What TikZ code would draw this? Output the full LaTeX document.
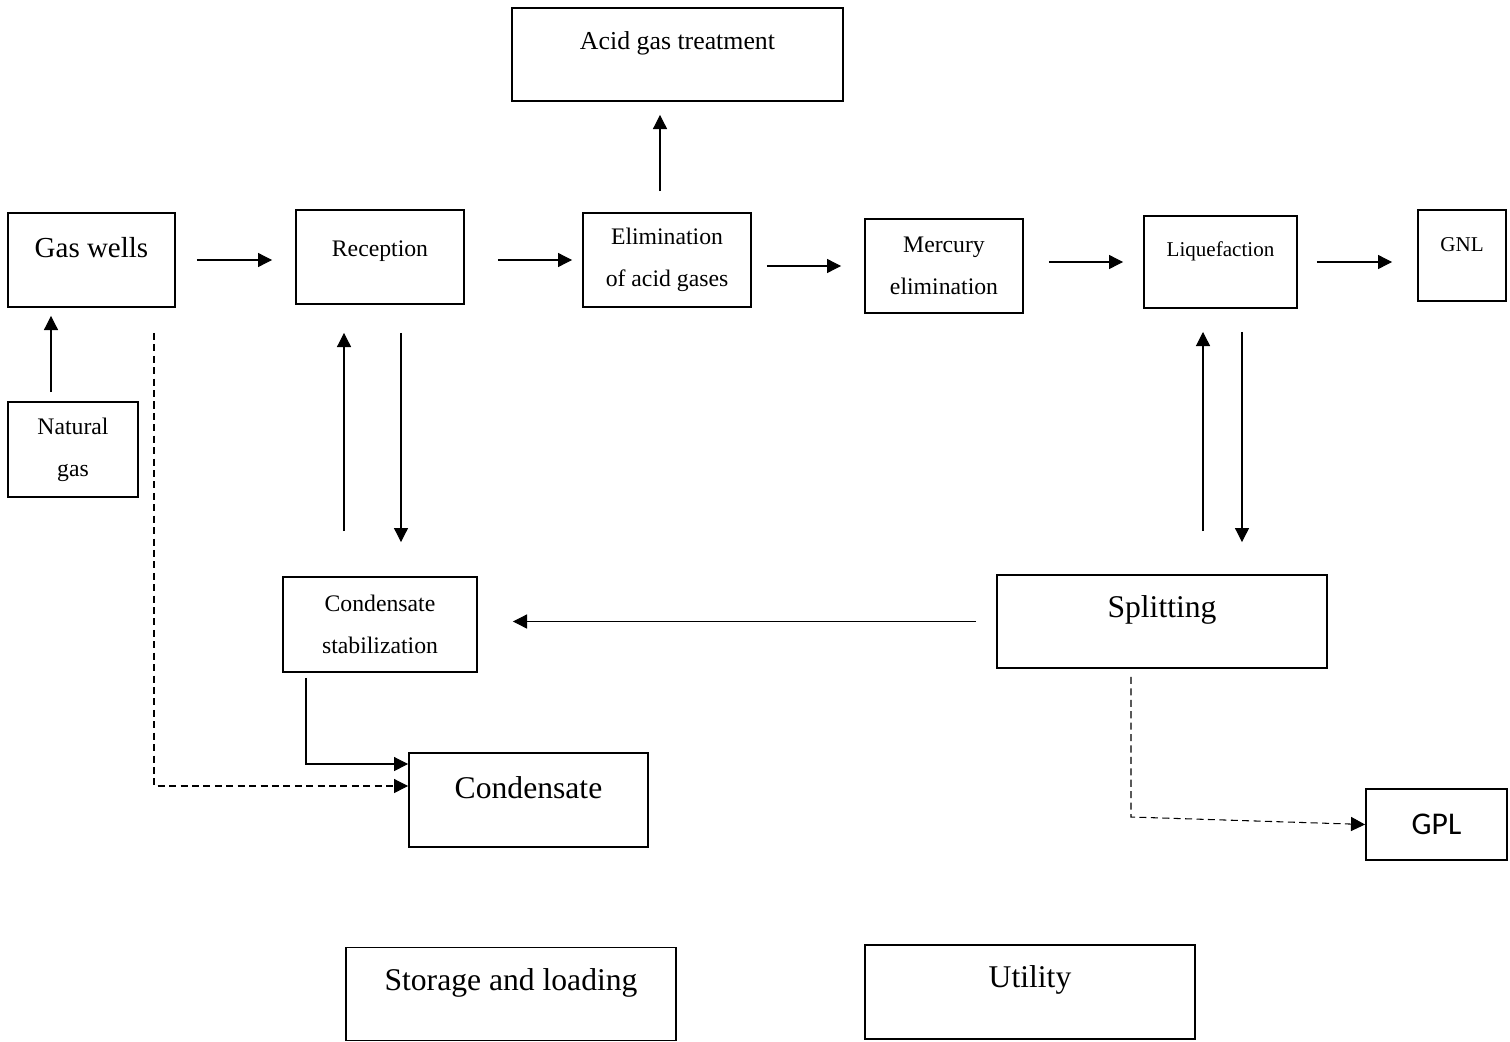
\documentclass[tikz,border=0pt]{standalone}
\usepackage{fontspec}
\setmainfont{Liberation Serif}
\newfontfamily\gplfont{Carlito}
\usetikzlibrary{arrows.meta}

\tikzset{
  box/.style={draw, line width=1.1pt, inner sep=0pt},
  txt/.style={anchor=center, yshift=-0.72cm},
  small/.style={font=\fontsize{13.5}{23.8}\selectfont, align=center},
  big/.style={font=\fontsize{18}{22}\selectfont},
  flow/.style={-{Triangle[length=8pt,width=8pt]}, line width=0.6pt},
  aux/.style={flow, dash pattern=on 4pt off 2.5pt},
}

\begin{document}
\begin{tikzpicture}[x=0.02cm, y=-0.02cm]
  \useasboundingbox (0,0) rectangle (1510,1041);

  % Main line
  \node[box, minimum width=3.34cm, minimum height=1.88cm,
    label={[txt, font=\fontsize{16.5}{20}\selectfont]north:Gas wells}] (gw) at (91.5,260) {};
  \node[box, minimum width=3.36cm, minimum height=1.88cm,
    label={[txt, yshift=-0.12cm, small]north:Reception}] (rec) at (380,257) {};
  \node[box, small, minimum width=3.36cm, minimum height=1.88cm] (elim) at (667,260) {Elimination\\of acid gases};
  \node[box, small, minimum width=3.16cm, minimum height=1.88cm] (merc) at (944,266) {Mercury\\elimination};
  \node[box, minimum width=3.06cm, minimum height=1.84cm,
    label={[txt, font=\fontsize{12}{14}\selectfont]north:Liquefaction}] (liq) at (1220.5,262) {};
  \node[box, minimum width=1.76cm, minimum height=1.82cm,
    label={[txt, font=\fontsize{12}{14}\selectfont]north:GNL}] (gnl) at (1462,255.5) {};
  \node[box, minimum width=6.62cm, minimum height=1.86cm,
    label={[txt, font=\fontsize{14.7}{18}\selectfont]north:Acid gas treatment}] (acid) at (677.5,54.5) {};
  \node[box, small, minimum width=2.6cm, minimum height=1.9cm] (ng) at (73,449.5) {Natural\\gas};

  % Lower units
  \node[box, small, minimum width=3.88cm, minimum height=1.9cm] (stab) at (380,624.5) {Condensate\\stabilization};
  \node[box, minimum width=6.6cm, minimum height=1.86cm,
    label={[txt, big]north:Splitting}] (split) at (1162,621.5) {};
  \node[box, minimum width=4.78cm, minimum height=1.88cm,
    label={[txt, big]north:Condensate}] (cond) at (528.5,800) {};
  \node[box, minimum width=2.82cm, minimum height=1.42cm,
    label={[txt, font=\gplfont\fontsize{18}{22}\selectfont]north:GPL}] (gpl) at (1436.5,824.5) {};
  \node[box, minimum width=6.6cm, minimum height=1.86cm,
    label={[txt, big]north:Storage and loading}] (store) at (511,994) {};
  \node[box, minimum width=6.6cm, minimum height=1.88cm,
    label={[txt, big]north:Utility}] (util) at (1030,992) {};

  % Gas path
  \draw[flow, shorten <=0.42cm, shorten >=0.46cm] (gw.east) -- (gw.east -| rec.west);
  \draw[flow, shorten <=0.66cm, shorten >=0.2cm] (elim.west -| rec.east) -- (elim.west);
  \draw[flow, shorten <=0.3cm, shorten >=0.46cm] (merc.west -| elim.east) -- (merc.west);
  \draw[flow, shorten <=0.5cm, shorten >=0.4cm] (liq.west -| merc.east) -- (liq.west);
  \draw[flow, shorten <=0.38cm, shorten >=0.5cm] (liq.east) -- (liq.east -| gnl.west);
  \draw[flow, shorten <=0.42cm, shorten >=0.26cm] ([xshift=-0.14cm]elim.north) -- ([xshift=-0.14cm]elim.north |- acid.south);
  \draw[flow, shorten <=0.18cm, shorten >=0.16cm] ([xshift=-0.44cm]ng.north) -- ([xshift=-0.44cm]ng.north |- gw.south);

  % Recycle loops
  \draw[flow, shorten <=0.9cm, shorten >=0.56cm] ([xshift=-0.72cm]stab.north) -- ([xshift=-0.72cm]stab.north |- rec.south);
  \draw[flow, shorten <=0.56cm, shorten >=0.68cm] ([xshift=0.42cm]rec.south) -- ([xshift=0.42cm]rec.south |- stab.north);
  \draw[flow, shorten <=0.86cm, shorten >=0.46cm] ([xshift=-0.35cm]liq.south |- split.north) -- ([xshift=-0.35cm]liq.south);
  \draw[flow, shorten <=0.46cm, shorten >=0.64cm] ([xshift=0.43cm]liq.south) -- ([xshift=0.43cm]liq.south |- split.north);
  \draw[flow, shorten <=0.4cm, shorten >=0.7cm] (split.west) -- (split.west -| stab.east);

  % Products
  \draw[flow, shorten <=0.1cm] ([xshift=-1.48cm]stab.south) |- ([yshift=0.72cm]cond.west);
  \draw[aux, shorten <=0.5cm] ([xshift=1.25cm]gw.south) |- ([yshift=0.28cm]cond.west);
  \coordinate (gplbend) at ([xshift=-0.62cm, yshift=0.15cm]split.south |- gpl.west);
  \draw[aux, shorten <=0.16cm] ([xshift=-0.62cm]split.south) -- (gplbend) -- (gpl.west);
\end{tikzpicture}
\end{document}
